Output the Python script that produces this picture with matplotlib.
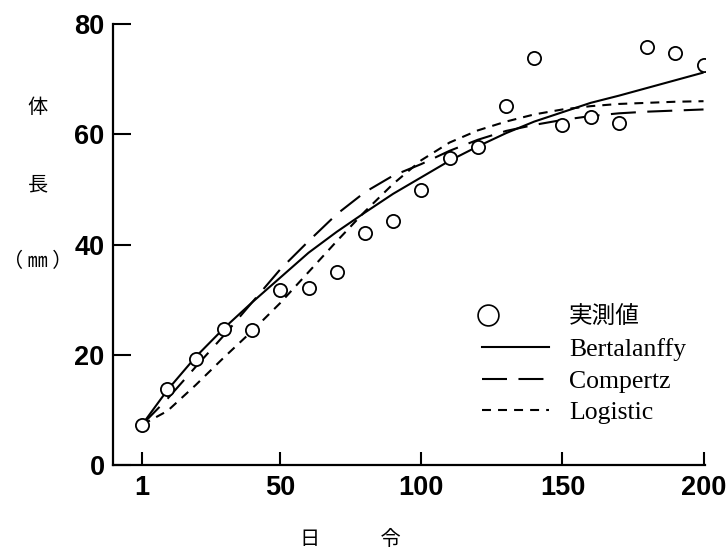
import numpy as np
import matplotlib
matplotlib.use("Agg")
import matplotlib.pyplot as plt
from matplotlib.lines import Line2D
from matplotlib.legend_handler import HandlerBase

plt.rcParams['font.family'] = ['Liberation Sans', 'Noto Sans CJK JP']

# days (every 10 days, first sample on day 1)
days = [1, 10, 20, 30, 40, 50, 60, 70, 80, 90, 100,
        110, 120, 130, 140, 150, 160, 170, 180, 190, 200]

# measured body length (mm)
observed = [7.3, 13.8, 19.2, 24.7, 24.5, 31.8, 32.1, 35.0, 42.1, 44.2, 49.8,
            55.7, 57.7, 65.2, 73.8, 61.7, 63.1, 62.0, 75.9, 74.7, 72.6]

# fitted growth curves
bertalanffy = [7.3, 13.6, 19.6, 24.8, 29.5, 34.0, 38.5, 42.3, 45.8, 49.2, 52.2,
               55.2, 57.8, 60.2, 62.3, 64.0, 65.7, 67.0, 68.4, 69.8, 71.2]
compertz = [7.3, 12.0, 17.8, 23.5, 29.5, 35.5, 40.6, 45.5, 49.5, 52.5, 54.6,
            57.0, 59.0, 60.6, 61.7, 62.6, 63.3, 63.8, 64.1, 64.3, 64.5]
logistic = [7.3, 9.8, 14.5, 19.5, 24.3, 29.4, 35.0, 40.6, 46.0, 51.0, 55.3,
            58.5, 60.7, 62.3, 63.6, 64.5, 65.1, 65.5, 65.7, 65.9, 66.0]

xticks = [1, 50, 100, 150, 200]
yticks = [0, 20, 40, 60, 80]
legend_labels = ['実測値', 'Bertalanffy', 'Compertz', 'Logistic']

fig = plt.figure(figsize=(7.28, 5.51), dpi=100)
ax = fig.add_axes([0.1552, 0.1561, 0.8135, 0.8003])

ax.plot(days, bertalanffy, color='k', lw=1.5, solid_capstyle='butt')
ax.plot(days, compertz, color='k', lw=1.5, dashes=(12, 5.5))
ax.plot(days, logistic, color='k', lw=1.5, dashes=(4.3, 3.4))
ax.plot(days, observed, ls='none', marker='o', ms=9.5, mfc='white', mec='k', mew=1.3)

ax.set_xlim(-9.3, 200.6)
ax.set_ylim(0, 80)
ax.set_xticks(xticks)
ax.set_yticks(yticks)

for side in ['top', 'right']:
    ax.spines[side].set_visible(False)
for side in ['left', 'bottom']:
    ax.spines[side].set_linewidth(1.6)

ax.tick_params(axis='y', direction='in', length=13, width=1.5, pad=6)
ax.tick_params(axis='x', direction='in', length=9.5, width=1.5, pad=7)
for lab in ax.get_xticklabels() + ax.get_yticklabels():
    lab.set_fontsize(19.5)
    lab.set_fontweight('bold')
    lab.set_family(['Liberation Sans'])

ax.set_ylabel('体\n長\n（ ㎜ ）', rotation=0, fontsize=14.5, linespacing=4.5,
              family=['Noto Sans CJK JP'], ha='center', va='center')
ax.yaxis.set_label_coords(-0.127, 0.635)
ax.set_xlabel('日　　　令', fontsize=14.5, family=['Noto Sans CJK JP'], va='center')
ax.xaxis.set_label_coords(0.40, -0.168)


class HandlerLeftMarker(HandlerBase):
    # one marker at the left end of the legend handle
    def create_artists(self, legend, orig_handle, xdescent, ydescent,
                       width, height, fontsize, trans):
        y = (height - ydescent) / 2
        x = -xdescent + 0.09 * width
        m = Line2D([x], [y])
        self.update_prop(m, orig_handle, legend)
        m.set_transform(trans)
        return [m]


handles = [
    Line2D([], [], ls='none', marker='o', ms=15, mfc='white', mec='k', mew=1.2),
    Line2D([], [], color='k', lw=1.5),
    Line2D([], [], color='k', lw=1.5, dashes=(12, 5.5)),
    Line2D([], [], color='k', lw=1.5, dashes=(4.3, 3.4)),
]
leg = ax.legend(handles, legend_labels, loc='center left', bbox_to_anchor=(0.623, 0.226),
                frameon=False, borderpad=0, borderaxespad=0, handlelength=2.6,
                handletextpad=0.78, labelspacing=0.34,
                prop={'family': ['Liberation Serif', 'Noto Sans CJK JP'], 'size': 18.5},
                handler_map={handles[0]: HandlerLeftMarker()})
leg.get_texts()[0].set_fontsize(17)

fig.savefig('out.png', dpi=100, facecolor='white')
